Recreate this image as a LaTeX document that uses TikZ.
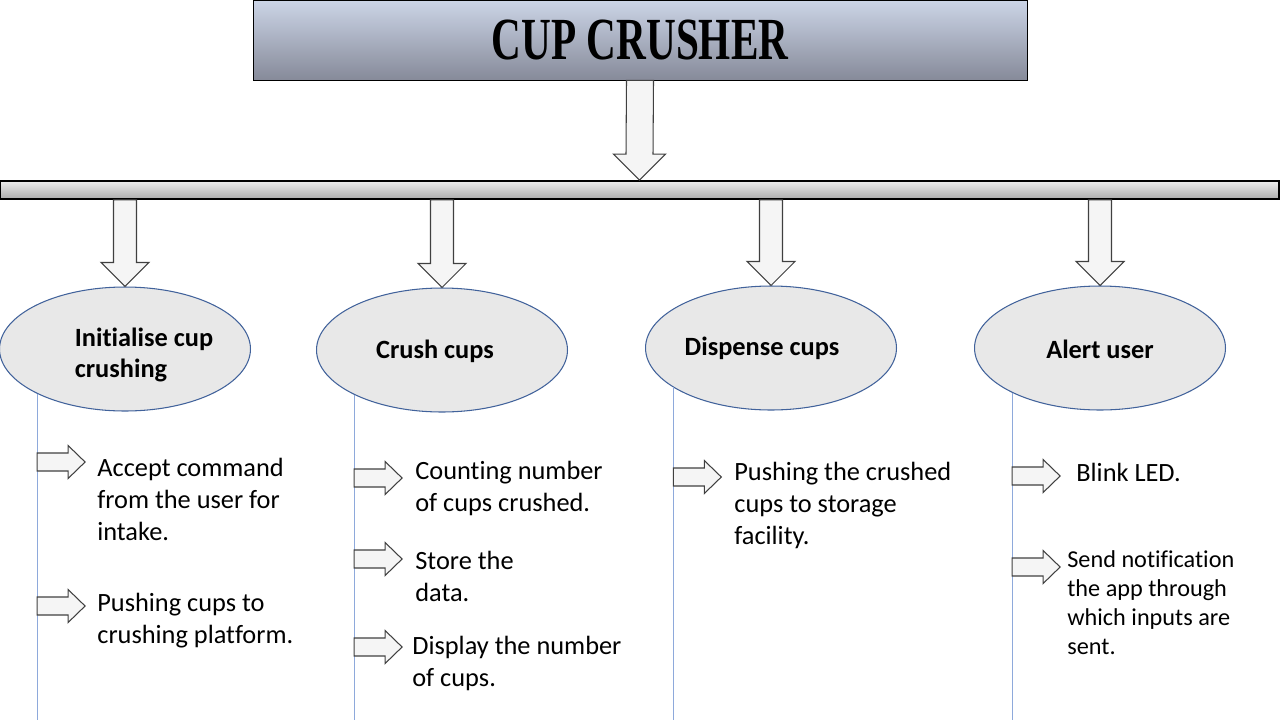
\documentclass[tikz,border=0pt]{standalone}
\usepackage{graphicx}
\usepackage{fontspec}
\setmainfont{Carlito}[Ligatures=NoCommon]
\newfontfamily\titlefont{Liberation Serif}
\usetikzlibrary{calc}
\usetikzlibrary{shapes.geometric}

\definecolor{stageedge}{HTML}{41629B}
\definecolor{linkline}{HTML}{8EA9DB}
\definecolor{titledark}{HTML}{868A99}
\definecolor{titlelight}{HTML}{CCD5E7}

\tikzset{
  titlebox/.style={draw=black, minimum width=15.48cm, minimum height=1.6cm,
    top color=titlelight, bottom color=titledark},
  hbar/.style={draw=black, line width=0.9pt, minimum width=25.58cm, minimum height=0.36cm,
    top color=gray!15, bottom color=gray!65, inner sep=0pt},
  stage/.style={ellipse, draw=stageedge, line width=0.6pt, fill=gray!18, minimum width=5.02cm, minimum height=2.48cm},
  stagetext/.style={align=left, inner sep=0pt, font=\bfseries\fontsize{15}{18}\selectfont},
  steptext/.style={anchor=north west, align=left, inner sep=0pt, font=\fontsize{15}{18.2}\selectfont},
  smalltext/.style={anchor=north west, align=left, inner sep=0pt, font=\fontsize{13.8}{16.6}\selectfont},
  blockarrow/.style={draw=black!75, fill=gray!8, line width=0.6pt},
  link/.style={draw=linkline, line width=0.6pt}
}

% hollow block arrow pointing down: top point, tip, shaft half width, head half width
\newcommand{\downblock}[4]{%
  \draw[blockarrow] ($(#1)+(-#3,0)$) -- ($(#1)+(#3,0)$) -- ($(#2)+(#3,-#4)$) -- ($(#2)+(#4,-#4)$)
    -- (#2) -- ($(#2)+(-#4,-#4)$) -- ($(#2)+(-#3,-#4)$) -- cycle;}
% hollow block arrow pointing right, from a point on a link line
\newcommand{\rightblock}[1]{%
  \draw[blockarrow] ($(#1)+(0,-9)$) -- ($(#1)+(31,-9)$) -- ($(#1)+(31,-16.5)$) -- ($(#1)+(48,0)$)
    -- ($(#1)+(31,16.5)$) -- ($(#1)+(31,9)$) -- ($(#1)+(0,9)$) -- cycle;}

\begin{document}
\begin{tikzpicture}[x=0.02cm, y=-0.02cm]
  \useasboundingbox (0,0) rectangle (1280,720);

  \node[titlebox] (title) at (640,40)
    {\titlefont\bfseries\fontsize{34}{34}\selectfont\scalebox{0.69}[1]{CUP CRUSHER}};
  \node[hbar] (bar) at (639.5,190) {};
  \downblock{title.south}{bar.north}{13.5}{26}

  % the four stages
  \node[stage] (init) at (125,349) {};
  \node[stage] (crush) at (442,350) {};
  \node[stage] (dispense) at (771,348) {};
  \node[stage] (alert) at (1100,348) {};

  \node[stagetext] (initlabel) at (144,355) {Initialise cup\\crushing};
  \node[stagetext] (crushlabel) at (435,351) {Crush cups};
  \node[stagetext] (dispenselabel) at (762,348) {Dispense cups};
  \node[stagetext] (alertlabel) at (1100,349) {Alert user};

  \foreach \s in {init,crush,dispense,alert} {
    \coordinate (\s top) at (\s.north |- bar.south);
    \downblock{\s top}{\s.north}{11.5}{24}
  }

  % link lines down the page
  \coordinate (bottom) at (0,720);
  \draw[link] (init.207) -- (init.207 |- bottom);
  \draw[link] (crush.207) -- (crush.207 |- bottom);
  \draw[link] (dispense.202) -- (dispense.202 |- bottom);
  \draw[link] (alert.207) -- (alert.207 |- bottom);

  \coordinate (a1) at (init.207 |- 0,462);
  \coordinate (a2) at (init.207 |- 0,606);
  \coordinate (b1) at (crush.207 |- 0,478);
  \coordinate (b2) at (crush.207 |- 0,559);
  \coordinate (b3) at (crush.207 |- 0,647);
  \coordinate (c1) at (dispense.202 |- 0,477);
  \coordinate (d1) at (alert.207 |- 0,476);
  \coordinate (d2) at (alert.207 |- 0,567);
  \foreach \p in {a1,a2,b1,b2,b3,c1,d1,d2} {
    \rightblock{\p}
  }

  \node[steptext] (accept) at (97,458) {Accept command\\from the user for\\intake.};
  \node[steptext] (push) at (97,593) {Pushing cups to\\crushing platform.};
  \node[steptext] (count) at (415,461) {Counting number\\of cups crushed.};
  \node[steptext] (store) at (415,551) {Store the\\data.};
  \node[steptext] (show) at (412,636) {Display the number\\of cups.};
  \node[steptext] (storage) at (734,462) {Pushing the crushed\\cups to storage\\facility.};
  \node[steptext] (blink) at (1076,463) {Blink LED.};
  \node[smalltext] (notify) at (1067,550) {Send notification\\the app through\\which inputs are\\sent.};
\end{tikzpicture}
\end{document}
